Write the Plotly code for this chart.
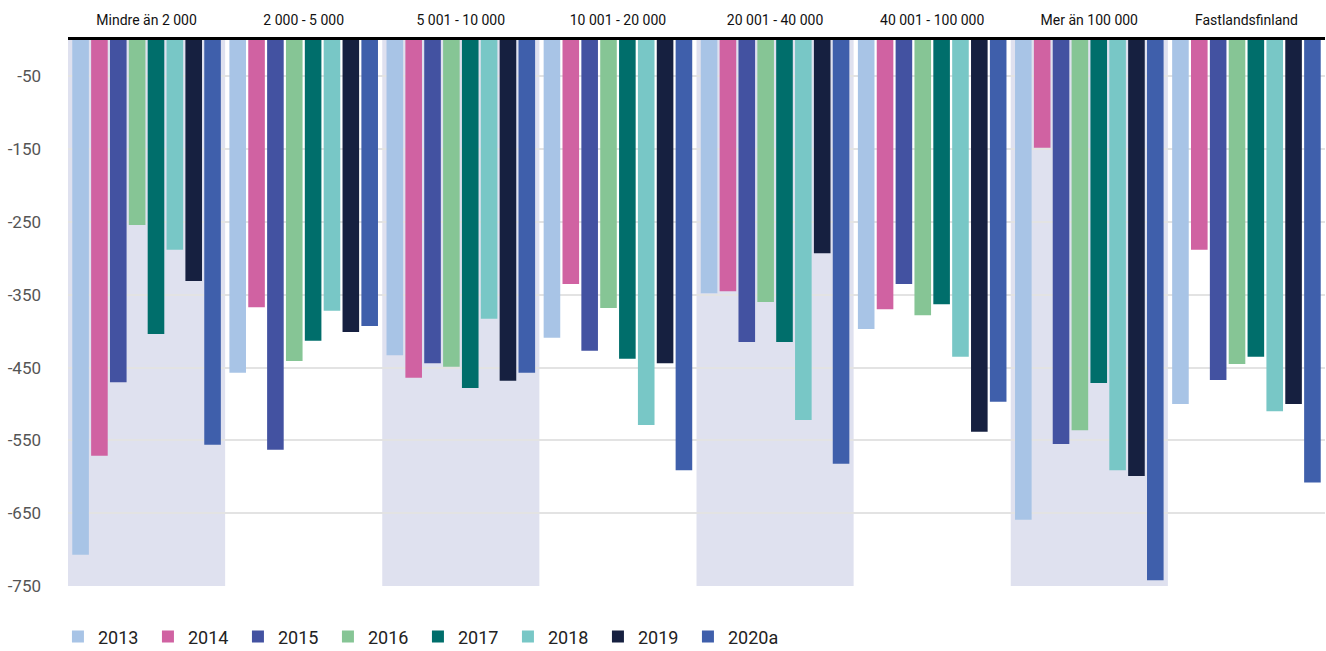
import plotly.graph_objects as go

categories = ["Mindre än 2 000", "2 000 - 5 000", "5 001 - 10 000", "10 001 - 20 000",
              "20 001 - 40 000", "40 001 - 100 000", "Mer än 100 000", "Fastlandsfinland"]
years = ["2013", "2014", "2015", "2016", "2017", "2018", "2019", "2020a"]

v2013 = [-707, -457, -433, -409, -348, -397, -659, -500]
v2014 = [-571, -367, -464, -335, -345, -370, -148, -288]
v2015 = [-470, -563, -444, -427, -415, -335, -555, -467]
v2016 = [-254, -441, -449, -368, -360, -378, -536, -445]
v2017 = [-404, -413, -478, -438, -415, -363, -471, -435]
v2018 = [-288, -372, -383, -529, -522, -435, -591, -510]
v2019 = [-331, -401, -468, -444, -293, -538, -599, -500]
v2020a = [-556, -393, -457, -591, -582, -497, -742, -608]

series = [v2013, v2014, v2015, v2016, v2017, v2018, v2019, v2020a]
colors = ["#a8c4e6", "#d062a2", "#4352a1", "#86c595", "#006e6b", "#78c7c6", "#162040", "#3f5fab"]

tickvals = [-50, -150, -250, -350, -450, -550, -650, -750]
ticktext = ["-50", "-150", "-250", "-350", "-450", "-550", "-650", "-750"]

FONT = "Roboto, Liberation Sans, sans-serif"

fig = go.Figure()
for name, vals, col in zip(years, series, colors):
    fig.add_trace(go.Bar(x=list(range(len(categories))), y=vals, name=name,
                         marker=dict(color=col, line=dict(width=0))))

shapes = []
for i in range(0, len(categories), 2):
    shapes.append(dict(type="rect", xref="x", yref="y", x0=i - 0.5, x1=i + 0.5,
                       y0=-750, y1=0, fillcolor="#dfe1ef", line=dict(width=0), layer="below"))

fig.update_layout(
    width=1326, height=651,
    margin=dict(l=68, r=1, t=40, b=65, autoexpand=False),
    paper_bgcolor="white", plot_bgcolor="white",
    barmode="group", bargap=0.04, bargroupgap=0.12,
    shapes=shapes,
    showlegend=True,
    legend=dict(orientation="h", x=-0.008, xanchor="left", y=-0.093, yanchor="middle",
                font=dict(family=FONT, size=18, color="#222"),
                entrywidth=45, entrywidthmode="pixels", itemwidth=30,
                traceorder="normal"),
    font=dict(family=FONT),
)

fig.update_xaxes(side="top", tickmode="array", tickvals=list(range(len(categories))),
                 ticktext=categories, range=[-0.5, len(categories) - 0.5],
                 showline=True, linecolor="black", linewidth=3, ticks="",
                 tickfont=dict(family=FONT, size=14, color="#111"),
                 showgrid=False, zeroline=False, automargin=False,
                 ticklabelstandoff=6)
fig.update_yaxes(range=[-750, 0], tickmode="array", tickvals=tickvals, ticktext=ticktext,
                 showgrid=True, gridcolor="#e3e3e3", gridwidth=2, zeroline=False,
                 tickfont=dict(family=FONT, size=17, color="#555"), ticks="",
                 ticklabelstandoff=26, automargin=False)

fig.write_html("out.html", config={"displayModeBar": False},
               post_script="document.body.style.margin='0';")
